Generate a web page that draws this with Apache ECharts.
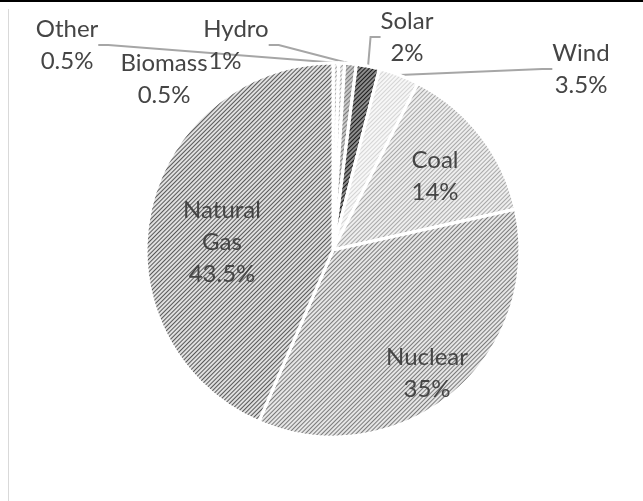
<!DOCTYPE html>
<html>
<head>
<meta charset="utf-8">
<script src="https://cdn.jsdelivr.net/npm/echarts@6/dist/echarts.min.js"></script>
<style>
html,body{margin:0;padding:0;background:#fff;}
#chart{width:643px;height:501px;}
</style>
</head>
<body>
<div id="chart"></div>
<script>
// ---- data ----
const categories = ['Biomass', 'Other', 'Hydro', 'Solar', 'Wind', 'Coal', 'Nuclear', 'Natural Gas'];
const values = [0.5, 0.5, 1, 2, 3.5, 14, 35, 43.5];

// ---- styles (fill, hatch colour) ----
const fillColors  = ['#f0f0f0', '#f0f0f0', '#c8c8c8', '#8c8c8c', '#f7f7f7', '#eeeeee', '#e6e6e6', '#e0e0e0'];
const hatchColors = ['#a8a8a8', '#a8a8a8', '#7a7a7a', '#1a1a1a', '#d4d4d4', '#a8a8a8', '#7a7a7a', '#585858'];
// label centres (layout only)
const labelPos = [
  [164, 79], [67, 45], [236, 45], [407, 37], [581, 69], [435, 176], [427, 373], [222, 242]
];
const showLine = [false, true, true, true, true, false, false, false];

const chart = echarts.init(document.getElementById('chart'), null, {renderer: 'canvas'});

const data = categories.map((name, i) => ({
  name: name,
  value: values[i],
  itemStyle: {
    color: fillColors[i],
    decal: {
      symbol: 'rect',
      symbolSize: 1,
      dashArrayX: [1, 0],
      dashArrayY: [1, 2],
      rotation: -Math.PI / 4,
      color: hatchColors[i]
    }
  },
  labelLine: { show: showLine[i] }
}));

chart.setOption({
  backgroundColor: '#ffffff',
  animation: false,
  graphic: [
    { type: 'line', shape: {x1: 0, y1: 1, x2: 643, y2: 1}, style: {stroke: '#000', lineWidth: 2} },
    { type: 'line', shape: {x1: 8.5, y1: 9, x2: 8.5, y2: 501}, style: {stroke: '#d9d9d9', lineWidth: 1} }
  ],
  series: [{
    type: 'pie',
    center: [333, 250],
    radius: 187,
    startAngle: 90,
    clockwise: true,
    avoidLabelOverlap: false,
    itemStyle: { borderColor: '#ffffff', borderWidth: 3 },
    label: {
      show: true,
      position: 'outside',
      fontFamily: 'Lato',
      fontSize: 24,
      lineHeight: 32,
      color: '#454545',
      textBorderWidth: 0,
      align: 'center',
      formatter: p => {
        const t = p.name.replace(' ', '\n');
        if (p.name === 'Hydro') return t + '\n{shift|' + p.value + '%}';
        return t + '\n' + p.value + '%';
      },
      rich: {
        shift: { fontFamily: 'Lato', fontSize: 24, lineHeight: 32, color: '#454545', padding: [0, 22, 0, 0] }
      }
    },
    labelLine: {
      show: true,
      length: 10,
      length2: 10,
      lineStyle: { color: '#a6a6a6', width: 2 }
    },
    labelLayout: function (params) {
      const p = labelPos[params.dataIndex];
      return { x: p[0], y: p[1], align: 'center', verticalAlign: 'middle' };
    },
    data: data
  }]
});
</script>
</body>
</html>
